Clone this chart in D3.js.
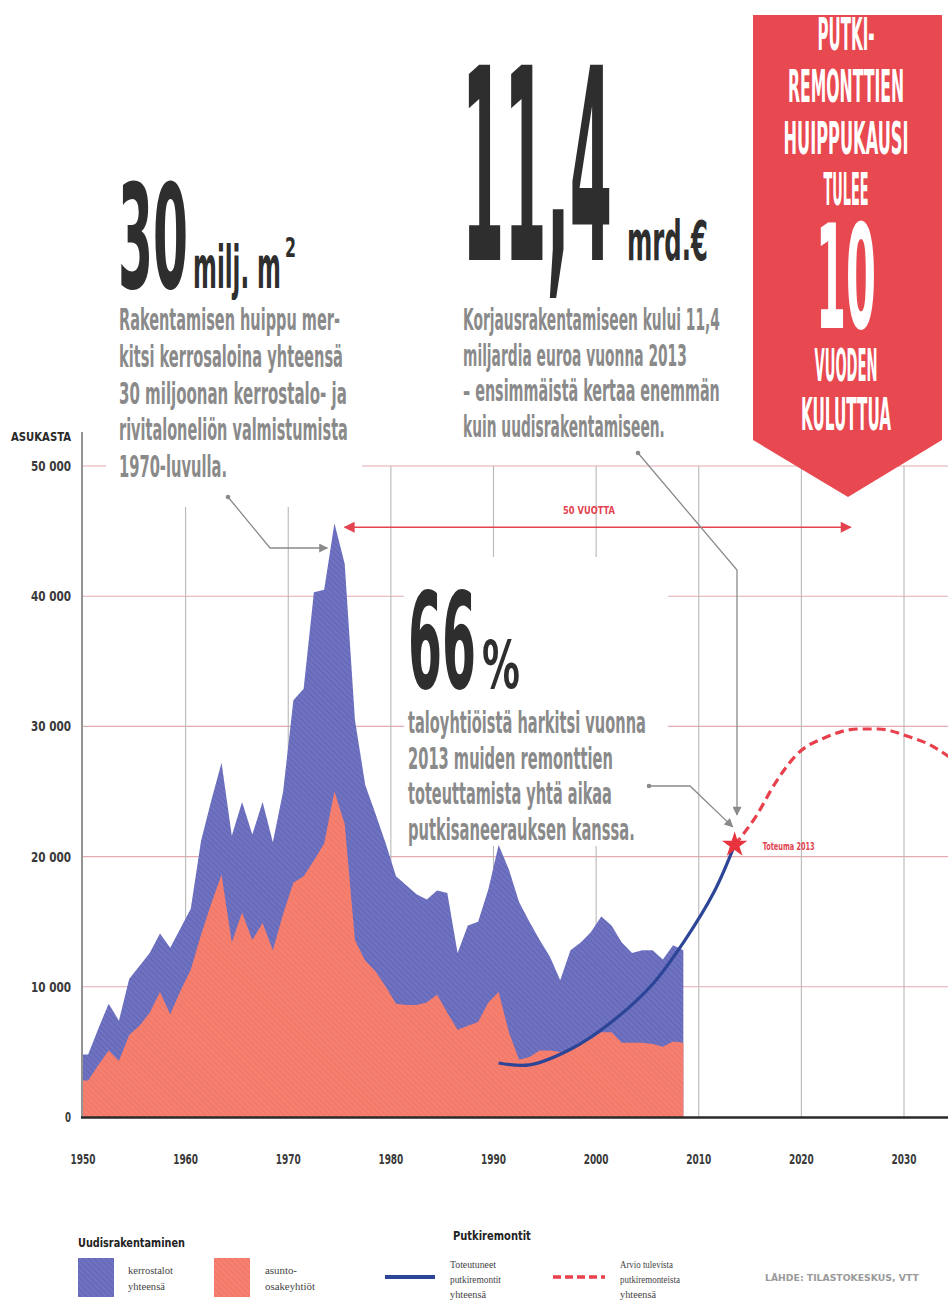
<!DOCTYPE html>
<html><head><meta charset="utf-8">
<script src="https://cdn.jsdelivr.net/npm/d3@7/dist/d3.min.js"></script>
<style>html,body{margin:0;padding:0;background:#fff;}svg{display:block;}</style>
</head><body><svg id="c" width="948" height="1301"></svg>
<script>
// ---------------- DATA ----------------
const years = [1950,1951,1952,1953,1954,1955,1956,1957,1958,1959,
  1960,1961,1962,1963,1964,1965,1966,1967,1968,1969,
  1970,1971,1972,1973,1974,1975,1976,1977,1978,1979,
  1980,1981,1982,1983,1984,1985,1986,1987,1988,1989,
  1990,1991,1992,1993,1994,1995,1996,1997,1998,1999,
  2000,2001,2002,2003,2004,2005,2006,2007,2008];
// kerrostalot yhteensä (asukasta)
const kerrostalot = [4800,6800,8700,7400,10600,11600,12600,14100,13000,14500,
  16000,21200,24300,27200,21600,24200,21700,24200,21100,25000,
  32000,32900,40300,40500,45600,42500,30500,25500,23300,21000,
  18500,17800,17100,16700,17400,17200,12600,14700,15000,17500,
  20900,19000,16500,15000,13600,12300,10500,12800,13400,14200,
  15400,14700,13400,12600,12800,12800,12100,13200,12800];
// asunto-osakeyhtiöt
const asunto = [2800,4000,5100,4300,6300,7000,8000,9600,7900,9700,
  11300,14000,16400,18600,13400,15700,13600,14900,12800,15600,
  18000,18500,19700,21000,25000,22500,13600,12000,11200,10000,
  8700,8600,8600,8800,9400,8000,6700,7000,7300,8800,
  9600,6500,4400,4600,5100,5100,5000,5200,5600,6000,
  6500,6500,5700,5700,5700,5600,5400,5800,5700];
// toteutuneet putkiremontit yhteensä
const pipeYears = [1990,1993,1997,2001,2005,2008,2011,2013];
const pipeValues = [4150,4000,5200,7300,10200,13400,17300,20900];
// arvio tulevista putkiremonteista yhteensä
const forecastYears = [2013,2015,2017,2019,2022,2025,2027,2030,2032,2034];
const forecastValues = [20900,23000,25700,27800,29200,29800,29800,29200,28600,27600];
// axes
const yTicks = [0,10000,20000,30000,40000,50000];
const yTickLabels = ["0","10 000","20 000","30 000","40 000","50 000"];
const xTicks = [1950,1960,1970,1980,1990,2000,2010,2020,2030];
const xTickLabels = ["1950","1960","1970","1980","1990","2000","2010","2020","2030"];
const toteumaYear = 2013, toteumaValue = 20900;
const arrowFrom = 1975, arrowTo = 2024.8, arrowValue = 45300;

// ---------------- SETUP ----------------
const svg = d3.select("#c");
const F = "'DejaVu Sans Condensed','DejaVu Sans','Liberation Sans Narrow',sans-serif";
const SERIF = "'Liberation Serif','DejaVu Serif',serif";
const x = d3.scaleLinear().domain([1950, 2030]).range([83, 904]);
const y = d3.scaleLinear().domain([0, 50000]).range([1117, 466]);
const mid = yr => x(yr + 0.5);   // annual values drawn at mid-year

function txt(g, s, tx, ty, o) {
  const t = g.append("text").attr("x", 0).attr("y", 0).text(s)
    .attr("font-family", o.family || F)
    .attr("font-weight", o.weight || "bold")
    .attr("font-size", o.size)
    .attr("fill", o.fill || "#222");
  if (o.stretch !== false) t.attr("font-stretch", "condensed");
  if (o.anchor) t.attr("text-anchor", o.anchor);
  if (o.ls) t.attr("letter-spacing", o.ls);
  let sx = 1;
  if (o.w) {
    const nat = t.node().getComputedTextLength();
    if (nat > 0) sx = o.w / nat;
  }
  t.attr("transform", `translate(${tx},${ty}) scale(${sx},1)`);
  return t;
}

const defs = svg.append("defs");
function hatch(id, base, stripe) {
  const p = defs.append("pattern").attr("id", id).attr("width", 4).attr("height", 4)
    .attr("patternUnits", "userSpaceOnUse").attr("patternTransform", "rotate(-45)");
  p.append("rect").attr("width", 4).attr("height", 4).attr("fill", base);
  p.append("line").attr("x1", 0).attr("y1", 0).attr("x2", 0).attr("y2", 4)
    .attr("stroke", stripe).attr("stroke-width", 1.4);
}
hatch("hb", "#6e72c1", "#5b5fae");
hatch("hs", "#f6806f", "#ec7064");
function marker(id, color, w, h, orient) {
  defs.append("marker").attr("id", id).attr("viewBox", "0 0 10 10")
    .attr("refX", 9).attr("refY", 5).attr("markerWidth", w).attr("markerHeight", h)
    .attr("markerUnits", "userSpaceOnUse").attr("orient", orient)
    .append("path").attr("d", "M0,0 L10,5 L0,10 Z").attr("fill", color);
}
marker("ag", "#8a8a8a", 10, 9, "auto");
marker("ar", "#e2434f", 14, 11, "auto");
marker("ar2", "#e2434f", 14, 11, "auto-start-reverse");
defs.append("clipPath").attr("id", "plotclip").append("rect")
  .attr("x", 0).attr("y", 0).attr("width", 948).attr("height", 1301);

// ---------------- GRID ----------------
const grid = svg.append("g");
grid.selectAll("line.h").data(yTicks.slice(1)).join("line")
  .attr("x1", x(1950)).attr("x2", 948)
  .attr("y1", d => y(d)).attr("y2", d => y(d))
  .attr("stroke", "#e4aab1").attr("stroke-width", 1.1);
grid.selectAll("line.v").data(xTicks.slice(1)).join("line")
  .attr("x1", d => x(d)).attr("x2", d => x(d))
  .attr("y1", y(50000)).attr("y2", y(0))
  .attr("stroke", "#b8b8b8").attr("stroke-width", 1.1);

// white boxes behind text blocks
svg.append("rect").attr("x", 106).attr("y", 150).attr("width", 256).attr("height", 357).attr("fill", "#fff");
svg.append("rect").attr("x", 404).attr("y", 557).attr("width", 264).attr("height", 289).attr("fill", "#fff");

// ---------------- AREAS ----------------
const series = years.map((yr, i) => ({ pos: yr + 0.5, tot: kerrostalot[i], aso: asunto[i] }));
const areaData = [{ pos: years[0], tot: kerrostalot[0], aso: asunto[0] }].concat(series);
svg.append("path").datum(areaData)
  .attr("d", d3.area().x(d => x(d.pos)).y0(y(0)).y1(d => y(d.tot)))
  .attr("fill", "url(#hb)");
svg.append("path").datum(areaData)
  .attr("d", d3.area().x(d => x(d.pos)).y0(y(0)).y1(d => y(d.aso)))
  .attr("fill", "url(#hs)");

// ---------------- AXES ----------------
svg.append("line").attr("x1", x(1950) - 1).attr("x2", x(1950) - 1)
  .attr("y1", 432).attr("y2", y(0)).attr("stroke", "#6f6f6f").attr("stroke-width", 1.5);
svg.append("line").attr("x1", x(1950) - 2).attr("x2", 948)
  .attr("y1", y(0) + 0.5).attr("y2", y(0) + 0.5).attr("stroke", "#2a2a2a").attr("stroke-width", 2.6);

const yl = svg.append("g");
yTicks.forEach((v, i) => {
  txt(yl, yTickLabels[i], 71, y(v) + 5, { size: 14, anchor: "end", fill: "#3a3a3a",
    w: i === 0 ? 6 : 40 });
});
txt(yl, "ASUKASTA", 71, 441, { size: 12, anchor: "end", fill: "#2a2a2a", w: 60 });
const xl = svg.append("g");
xTicks.forEach((v, i) => {
  txt(xl, xTickLabels[i], x(v), 1164, { size: 14, anchor: "middle", fill: "#3a3a3a", w: 25 });
});

// ---------------- PIPE LINES ----------------
const pl = svg.append("g").attr("clip-path", "url(#plotclip)");
pl.append("path").datum(forecastYears.map((yr, i) => [mid(yr), y(forecastValues[i])]))
  .attr("d", d3.line().curve(d3.curveMonotoneX))
  .attr("fill", "none").attr("stroke", "#e8404c").attr("stroke-width", 3.2)
  .attr("stroke-dasharray", "9,5");
pl.append("path").datum(pipeYears.map((yr, i) => [mid(yr), y(pipeValues[i])]))
  .attr("d", d3.line().curve(d3.curveCatmullRom))
  .attr("fill", "none").attr("stroke", "#2c4596").attr("stroke-width", 3.2);
svg.append("path").attr("d", d3.symbol(d3.symbolStar).size(200)())
  .attr("transform", `translate(${mid(toteumaYear)},${y(toteumaValue)})`)
  .attr("fill", "#e8333f");
txt(svg, "Toteuma 2013", mid(toteumaYear) + 28, y(toteumaValue) + 5, { size: 10, fill: "#e2434f", w: 52 });

// ---------------- 50 VUOTTA ARROW ----------------
svg.append("line").attr("x1", x(arrowFrom + 0.5)).attr("x2", x(arrowTo))
  .attr("y1", y(arrowValue)).attr("y2", y(arrowValue))
  .attr("stroke", "#e2434f").attr("stroke-width", 1.6)
  .attr("marker-start", "url(#ar2)").attr("marker-end", "url(#ar)");
txt(svg, "50 VUOTTA", 589, 514, { size: 10, anchor: "middle", fill: "#e2434f", w: 52 });

// ---------------- LEADERS ----------------
const lead = svg.append("g").attr("fill", "none").attr("stroke", "#8a8a8a").attr("stroke-width", 1.3);
lead.append("path").attr("d", `M228,497 L270,548 L${x(1974) - 2},548`).attr("marker-end", "url(#ag)");
lead.append("path").attr("d", `M638,453 L737,570 L737,${y(toteumaValue) - 30}`).attr("marker-end", "url(#ag)");
lead.append("path").attr("d", `M649,786 L690,786 L${mid(toteumaYear) - 2},${y(toteumaValue) - 18}`).attr("marker-end", "url(#ag)");
[[228, 497], [638, 453], [649, 786]].forEach(p =>
  svg.append("circle").attr("cx", p[0]).attr("cy", p[1]).attr("r", 2.3).attr("fill", "#8a8a8a"));

// ---------------- TEXT BLOCKS ----------------
const T = svg.append("g");
const DARK = "#2e2e2e", GRAY = "#8a8a8a";
// block 1
txt(T, "30", 118, 288, { size: 145, fill: DARK, w: 70 });
txt(T, "milj. m", 193, 288, { size: 58, fill: DARK, w: 88 });
txt(T, "2", 285, 257, { size: 26, fill: DARK, w: 11 });
const p1 = ["Rakentamisen huippu mer-", "kitsi kerrosaloina yhteensä", "30 miljoonan kerrostalo-  ja",
  "rivitaloneliön valmistumista", "1970-luvulla."];
const p1w = [221, 224, 228, 229, 108];
p1.forEach((s, i) => txt(T, s, 119, 330 + i * 36.75, { size: 31, fill: GRAY, w: p1w[i] }));
// block 2
txt(T, "11,4", 462, 260, { size: 268, fill: DARK, w: 150 });
txt(T, "mrd.€", 627, 260, { size: 55, fill: DARK, w: 81 });
const p2 = ["Korjausrakentamiseen kului 11,4", "miljardia euroa vuonna 2013",
  "– ensimmäistä kertaa enemmän", "kuin uudisrakentamiseen."];
const p2w = [257, 224, 257, 202];
p2.forEach((s, i) => txt(T, s, 463, 330 + i * 35.5, { size: 31, fill: GRAY, w: p2w[i] }));
// block 3
txt(T, "66", 408, 688, { size: 134, fill: DARK, w: 68 });
txt(T, "%", 482, 688, { size: 66, fill: DARK, w: 38 });
const p3 = ["taloyhtiöistä harkitsi vuonna", "2013 muiden remonttien",
  "toteuttamista yhtä aikaa", "putkisaneerauksen kanssa."];
const p3w = [238, 205, 204, 227];
p3.forEach((s, i) => txt(T, s, 408, 733 + i * 35.7, { size: 31, fill: GRAY, w: p3w[i] }));

// ---------------- BANNER ----------------
const B = svg.append("g");
B.append("path").attr("d", "M753,15 L942,15 L942,440 L848,497 L753,440 Z").attr("fill", "#e8484f");
const bl = [["PUTKI-", 50, 57], ["REMONTTIEN", 102, 116], ["HUIPPUKAUSI", 154, 125], ["TULEE", 205, 45],
  ["VUODEN", 381, 63], ["KULUTTUA", 430, 90]];
bl.forEach(d => txt(B, d[0], 846, d[1], { size: 45, anchor: "middle", fill: "#fff", w: d[2] }));
txt(B, "10", 846, 328, { size: 145, anchor: "middle", fill: "#fff", w: 60 });

// ---------------- LEGEND ----------------
const L = svg.append("g");
txt(L, "Uudisrakentaminen", 78, 1247, { size: 13, fill: "#222", w: 107 });
L.append("rect").attr("x", 78).attr("y", 1258).attr("width", 36).attr("height", 39).attr("fill", "url(#hb)");
txt(L, "kerrostalot", 128, 1274, { size: 11, family: SERIF, weight: "normal", fill: "#444", w: 45, stretch: false });
txt(L, "yhteensä", 128, 1290, { size: 11, family: SERIF, weight: "normal", fill: "#444", w: 37, stretch: false });
L.append("rect").attr("x", 214).attr("y", 1258).attr("width", 36).attr("height", 39).attr("fill", "url(#hs)");
txt(L, "asunto-", 265, 1274, { size: 11, family: SERIF, weight: "normal", fill: "#444", w: 32, stretch: false });
txt(L, "osakeyhtiöt", 265, 1290, { size: 11, family: SERIF, weight: "normal", fill: "#444", w: 50, stretch: false });
txt(L, "Putkiremontit", 453, 1240, { size: 13, fill: "#222", w: 78 });
L.append("line").attr("x1", 385).attr("x2", 435).attr("y1", 1277).attr("y2", 1277)
  .attr("stroke", "#2c4596").attr("stroke-width", 4);
["Toteutuneet", "putkiremontit", "yhteensä"].forEach((s, i) =>
  txt(L, s, 450, 1268 + i * 15, { size: 11, family: SERIF, weight: "normal", fill: "#444", w: [46, 51, 36][i], stretch: false }));
L.append("line").attr("x1", 553).attr("x2", 605).attr("y1", 1277).attr("y2", 1277)
  .attr("stroke", "#e8404c").attr("stroke-width", 3.5).attr("stroke-dasharray", "8,4");
["Arvio tulevista", "putkiremonteista", "yhteensä"].forEach((s, i) =>
  txt(L, s, 620, 1268 + i * 15, { size: 11, family: SERIF, weight: "normal", fill: "#444", w: [53, 60, 36][i], stretch: false }));
txt(L, "LÄHDE: TILASTOKESKUS, VTT", 765, 1281, { size: 9, fill: "#9a9a9a", w: 154 });
</script></body></html>
